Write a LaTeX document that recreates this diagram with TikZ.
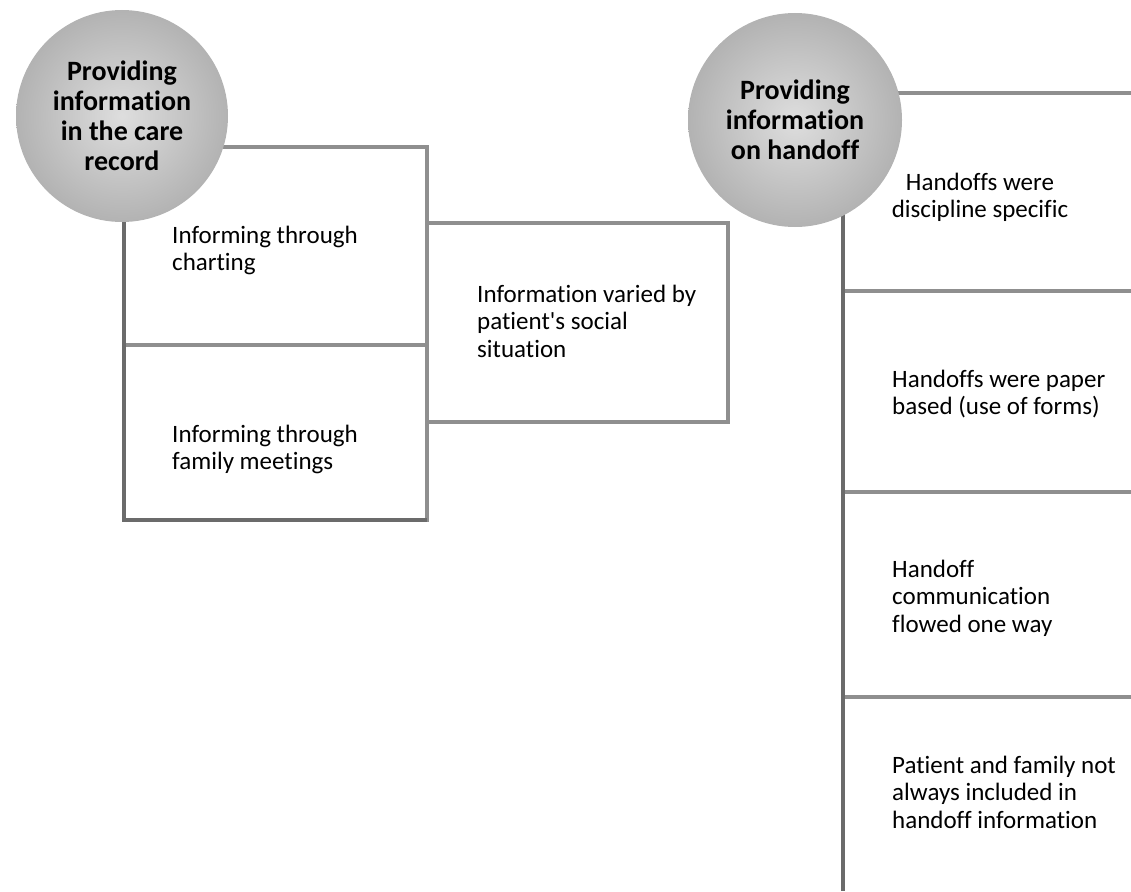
\documentclass[tikz,border=0pt]{standalone}
\usepackage{fontspec}
\setmainfont[Ligatures={NoCommon}]{Carlito}
\definecolor{lnmid}{gray}{0.56}
\definecolor{lndark}{gray}{0.42}
\definecolor{ballin}{gray}{0.87}
\definecolor{ballout}{gray}{0.70}
\begin{document}
\begin{tikzpicture}[x=1pt,y=-1pt,
  txt/.style={font=\fontsize{25}{27.5}\selectfont, inner sep=0pt, align=left, anchor=base west},
  ctxt/.style={font=\fontsize{25}{27.5}\selectfont, inner sep=0pt, align=center, anchor=base},
  ball/.style={circle, inner sep=0pt, minimum size=#1, inner color=ballin, outer color=ballout,
    font=\bfseries\fontsize{28}{30}\selectfont, align=center},
  midline/.style={draw=lnmid, line width=3.5pt},
  darkline/.style={draw=lndark, line width=3.5pt}]
\useasboundingbox (0,0) rectangle (1131,891);

% left group geometry
\coordinate (b1tl) at (124,147);
\coordinate (b1mr) at (427,345);
\coordinate (b1ml) at (124,345);
\coordinate (b1bl) at (124,520);
\coordinate (b1br) at (427,520);
\coordinate (b2tl) at (427,223);
\coordinate (b2br) at (728,422);

\draw[midline] (b1tl) rectangle (b1mr);
\draw[midline] (b1ml) rectangle (b1br);
\draw[darkline] (b1tl) -- (b1ml) -- (b1bl) -- (b1br);
\draw[midline] (b2tl) rectangle (b2br);

% right group geometry
\coordinate (trunkTop) at (843,210);
\coordinate (trunkBot) at (843,891);
\coordinate (r0a) at (880,93);   \coordinate (r0b) at (1131,93);
\coordinate (r1a) at (843,291);  \coordinate (r1b) at (1131,291);
\coordinate (r2a) at (843,492);  \coordinate (r2b) at (1131,492);
\coordinate (r3a) at (843,697);  \coordinate (r3b) at (1131,697);

\draw[midline] (r0a) -- (r0b);
\draw[midline] (r1a) -- (r1b);
\draw[midline] (r2a) -- (r2b);
\draw[midline] (r3a) -- (r3b);
\draw[darkline] (trunkTop) -- (trunkBot);

% circles
\node[ball=212pt] (c1) at (122,116) {Providing\\information\\in the care\\record};
\node[ball=214pt] (c2) at (795,120) {Providing\\information\\on handoff};

% texts left (anchor = baseline of the last line)
\node[txt] (t1) at (172,270.5) {Informing through\\charting};
\node[txt] (t2) at (172,469.5) {Informing through\\family meetings};
\node[txt] (t3) at (477,357) {Information varied by\\patient\textquotesingle s social\\situation};

% texts right
\node[ctxt] (h1) at (980,217.5) {Handoffs were\\discipline specific};
\node[txt] (h2) at (892,414.5) {Handoffs were paper\\based (use of forms)};
\node[txt] (h3) at (892,632) {Handoff\\communication\\flowed one way};
\node[txt] (h4) at (892,828) {Patient and family not\\always included in\\handoff information};
\end{tikzpicture}
\end{document}
